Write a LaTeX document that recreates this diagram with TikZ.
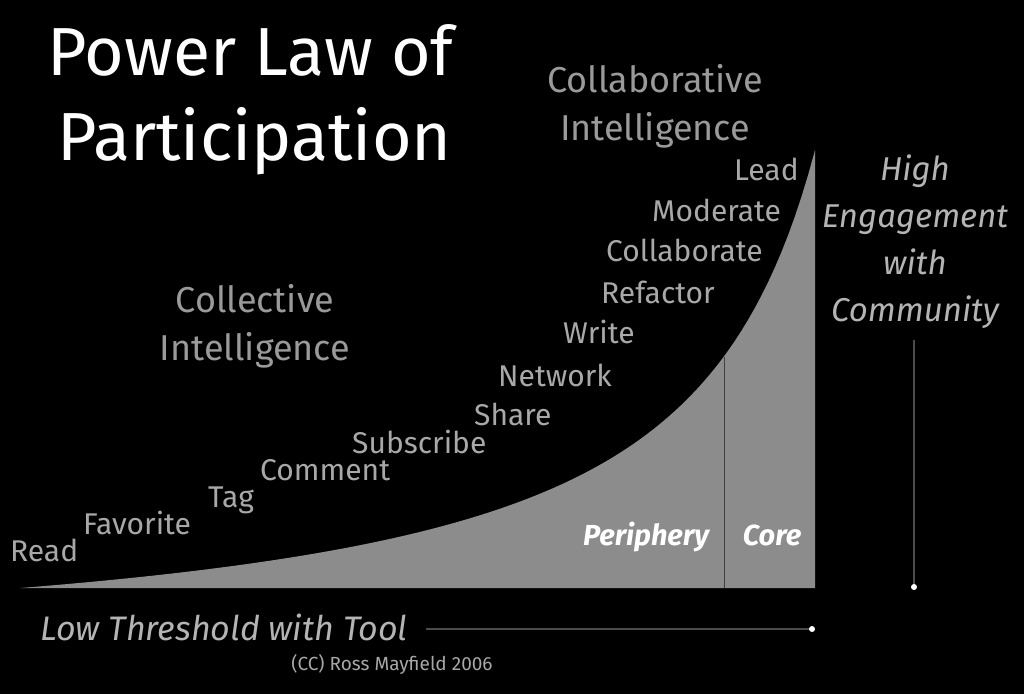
\documentclass[tikz,border=0pt]{standalone}
\usepackage{fontspec}
\setmainfont{Fira Sans}
\definecolor{areagray}{HTML}{8C8C8C}
\definecolor{headgray}{HTML}{9A9A9A}
\definecolor{stepgray}{HTML}{A8A8A8}
\definecolor{sidegray}{HTML}{B4B4B4}
\begin{document}
\begin{tikzpicture}[
  x=1pt, y=-1pt,
  title/.style={font=\fontsize{68}{80}\selectfont, text=white, anchor=base west, inner sep=0pt},
  head/.style={font=\fontsize{36}{48}\selectfont, text=headgray, align=center, inner sep=0pt},
  act/.style={font=\fontsize{30}{34}\selectfont, text=stepgray, anchor=base west, inner sep=0pt},
  side/.style={font=\itshape\fontsize{33}{47}\selectfont, text=sidegray, align=center},
  zone/.style={font=\bfseries\itshape\fontsize{29}{32}\selectfont, text=white, anchor=base},
  guide/.style={draw=gray!60!black, line width=1.2pt},
  tip/.style={circle, fill=white, inner sep=0pt, minimum size=6pt}
]
\fill[black] (0,0) rectangle (1024,694);
\useasboundingbox (0,0) rectangle (1024,694);
% title
\node[title] (t1) at (47,75) {Power Law of};
\node[title] (t2) at (57,160) {Participation};
% participation curve
\fill[areagray] plot[domain=20:815, samples=120] (\x, {662.4 - 691.7/(950-\x)*100})
  -- (815,588) -- cycle;
\coordinate (split) at (724,356.5);
\coordinate (base) at (724,588);
\draw[black!75, line width=1pt] (split) -- (base);
\node[zone] (peri) at (646,545) {Periphery};
\node[zone] (core) at (772,545) {Core};
% headings
\node[head] (coll) at (255,326) {Collective\\Intelligence};
\node[head] (collab) at (655,106) {Collaborative\\Intelligence};
% activities
\foreach \n/\x/\y/\txt in {1/10/561/Read, 2/83/534/Favorite, 3/208/507/Tag,
    4/260/480/Comment, 5/352/453/Subscribe, 6/474/425/Share,
    7/498/386/Network, 8/563/343/Write, 9/601/303/Refactor,
    10/606/261/Collaborate, 11/652/221/Moderate, 12/734/180/Lead}
  \node[act] (a\n) at (\x,\y) {\txt};
% axes labels
\node[side] (eng) at (915,242) {High\\Engagement\\with\\Community};
\coordinate (engend) at (914,587);
\draw[guide] (914,340) -- (engend);
\node[tip] at (engend) {};
\node[side, font=\itshape\fontsize{34}{40}\selectfont, anchor=base west, inner sep=0pt] (low) at (40,640) {Low Threshold with Tool};
\coordinate (lowend) at (812,629);
\draw[guide] ([xshift=18pt]low.east |- lowend) -- (lowend);
\node[tip] at (lowend) {};
\node[font=\fontsize{19}{22}\selectfont, text=stepgray] (cc) at (392,664) {(CC) Ross Mayfield 2006};
\end{tikzpicture}
\end{document}
